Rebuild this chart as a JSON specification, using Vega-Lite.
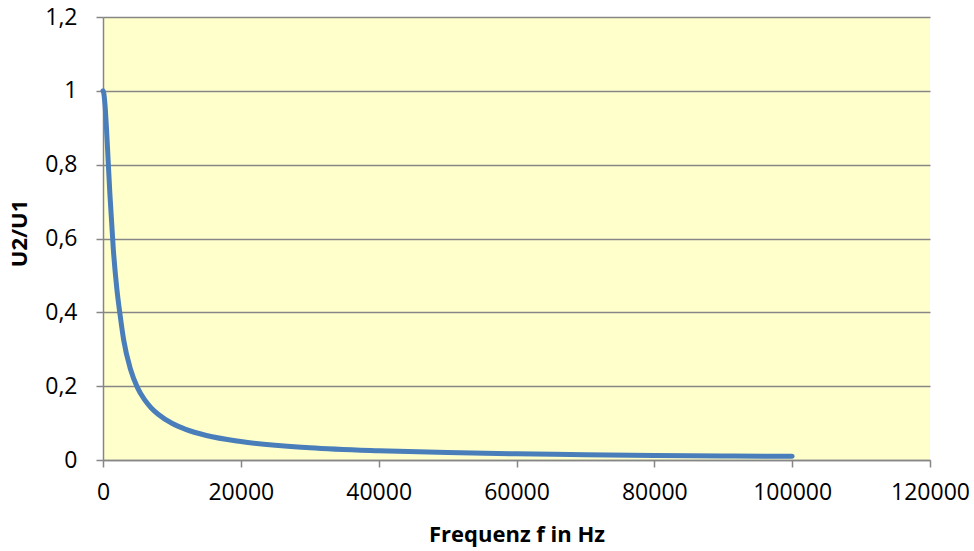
{
  "$schema": "https://vega.github.io/schema/vega-lite/v6.json",
  "width": 827,
  "height": 443,
  "autosize": {"type": "none"},
  "padding": {"left": 103, "top": 17, "right": 44, "bottom": 91},
  "background": "#ffffff",
  "config": {
    "locale": {"number": {"decimal": ",", "thousands": "", "grouping": [3], "currency": ["", "€"]}},
    "view": {"fill": "#FFFFCC", "stroke": null},
    "font": "Open Sans"
  },
  "data": {
    "values": [
      {"f": 0, "u": 1.0},
      {"f": 100, "u": 0.995},
      {"f": 300, "u": 0.96},
      {"f": 500, "u": 0.9},
      {"f": 750, "u": 0.81},
      {"f": 1000, "u": 0.72},
      {"f": 1500, "u": 0.57},
      {"f": 2000, "u": 0.465},
      {"f": 2500, "u": 0.39},
      {"f": 3000, "u": 0.325},
      {"f": 4000, "u": 0.245},
      {"f": 5000, "u": 0.196},
      {"f": 6000, "u": 0.164},
      {"f": 7000, "u": 0.141},
      {"f": 8000, "u": 0.124},
      {"f": 10000, "u": 0.0995},
      {"f": 12000, "u": 0.083},
      {"f": 15000, "u": 0.0665},
      {"f": 20000, "u": 0.05},
      {"f": 30000, "u": 0.0333},
      {"f": 40000, "u": 0.025},
      {"f": 50000, "u": 0.02},
      {"f": 60000, "u": 0.0167},
      {"f": 70000, "u": 0.0143},
      {"f": 80000, "u": 0.0125},
      {"f": 90000, "u": 0.0111},
      {"f": 100000, "u": 0.01}
    ]
  },
  "mark": {"type": "line", "color": "#4A7EBB", "strokeWidth": 5, "interpolate": "monotone", "strokeCap": "round"},
  "encoding": {
    "x": {
      "field": "f", "type": "quantitative",
      "scale": {"domain": [0, 120000], "nice": false, "zero": true},
      "axis": {
        "values": [0, 20000, 40000, 60000, 80000, 100000, 120000],
        "format": "d",
        "grid": false,
        "domainColor": "#868686", "domainWidth": 1.5,
        "tickColor": "#868686", "tickWidth": 1.5, "tickSize": 7,
        "labelFont": "Open Sans", "labelFontSize": 23, "labelColor": "#000000", "labelPadding": 14,
        "labelFlush": false,
        "title": "Frequenz f in Hz",
        "titleFont": "Open Sans", "titleFontSize": 22, "titleFontWeight": "bold", "titleColor": "#000000",
        "titlePadding": 20
      }
    },
    "y": {
      "field": "u", "type": "quantitative",
      "scale": {"domain": [0, 1.2], "nice": false},
      "axis": {
        "values": [0, 0.2, 0.4, 0.6, 0.8, 1.0, 1.2],
        "format": ".1~f",
        "grid": true, "gridColor": "#868686", "gridWidth": 1.5,
        "domainColor": "#868686", "domainWidth": 1.5,
        "tickColor": "#868686", "tickWidth": 1.5, "tickSize": 7,
        "labelFont": "Open Sans", "labelFontSize": 23, "labelColor": "#000000", "labelPadding": 19,
        "labelFlush": false,
        "title": "U2/U1",
        "titleFont": "Open Sans", "titleFontSize": 22, "titleFontWeight": "bold", "titleColor": "#000000",
        "titleX": -84, "titleY": 216, "titleAngle": -90, "titleBaseline": "middle", "titleAlign": "center"
      }
    }
  }
}
